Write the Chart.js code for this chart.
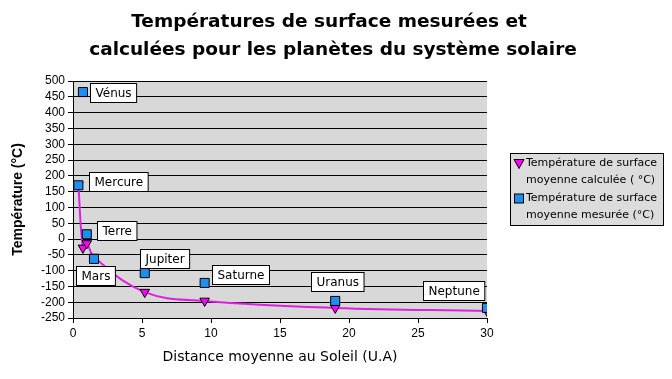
<!DOCTYPE html>
<html>
<head>
<meta charset="utf-8">
<script src="https://cdn.jsdelivr.net/npm/chart.js@4"></script>
<style>
html,body{margin:0;padding:0;background:#fff;}
#wrap{width:672px;height:379px;position:relative;}
</style>
</head>
<body>
<div id="wrap"><canvas id="c" width="672" height="379"></canvas></div>
<script>
const planets = ["Mercure","Vénus","Terre","Mars","Jupiter","Saturne","Uranus","Neptune"];
const distances = [0.39, 0.72, 1.0, 1.52, 5.2, 9.54, 19.0, 30.0];
const tempCalculee = [172, -28, -14, -57, -168, -196, -218, -228];
const tempMesuree = [170, 465, 15, -63, -108, -139, -196, -218];
const titleLines = ["Températures de surface mesurées et", "calculées pour les planètes du système solaire"];
const legendLabels = [["Température de surface","moyenne calculée ( °C)"],["Température de surface","moyenne mesurée (°C)"]];
const xTitle = "Distance moyenne au Soleil (U.A)";
const yTitle = "Température (°C)";

// label box offsets (style): center of box relative to measured point
const labelOffsets = [[40,-4],[30,0],[30,-4],[1,17],[20,-15],[36,-8],[2,-19],[-33,-17]];

const COMIC = '"Comic Sans MS","DejaVu Sans",sans-serif';

const decor = {
  id:'decor',
  beforeDraw(chart){
    const {ctx, chartArea:a} = chart;
    ctx.save();
    ctx.fillStyle = '#d8d8d8';
    ctx.fillRect(a.left, a.top, a.right-a.left, a.bottom-a.top);
    ctx.restore();
  },
  afterDraw(chart){
    const ctx = chart.ctx;
    ctx.save();
    // title
    ctx.fillStyle = '#000';
    ctx.font = 'bold 18.5px ' + COMIC;
    ctx.textAlign = 'center';
    ctx.textBaseline = 'middle';
    ctx.fillText(titleLines[0], 329, 22);
    ctx.fillText(titleLines[1], 333, 50);

    // point labels
    const meta = chart.getDatasetMeta(1);
    ctx.font = '12px ' + COMIC;
    meta.data.forEach((pt, i) => {
      const txt = planets[i];
      const w = ctx.measureText(txt).width + 10;
      const h = 19;
      const cx = pt.x + labelOffsets[i][0];
      const cy = pt.y + labelOffsets[i][1];
      const x0 = Math.round(cx - w/2) + 0.5, y0 = Math.round(cy - h/2) + 0.5;
      ctx.fillStyle = '#fff';
      ctx.fillRect(x0, y0, w, h);
      ctx.strokeStyle = '#000';
      ctx.lineWidth = 1;
      ctx.strokeRect(x0, y0, w, h);
      ctx.fillStyle = '#000';
      ctx.textAlign = 'center';
      ctx.textBaseline = 'middle';
      ctx.fillText(txt, x0 + w/2, y0 + h/2 + 1);
    });

    // legend
    const lx = 510.5, ly = 153.5, lw = 153, lh = 72;
    ctx.fillStyle = '#dcdcdc';
    ctx.fillRect(lx, ly, lw, lh);
    ctx.strokeStyle = '#000';
    ctx.lineWidth = 1;
    ctx.strokeRect(lx, ly, lw, lh);
    ctx.font = '11px ' + COMIC;
    ctx.textAlign = 'left';
    ctx.textBaseline = 'middle';
    const ds = chart.data.datasets;
    legendLabels.forEach((lines, k) => {
      const y1 = ly + 10 + k*35;
      ctx.fillStyle = '#000';
      ctx.fillText(lines[0], 526, y1);
      ctx.fillText(lines[1], 526, y1 + 17);
      ctx.fillStyle = ds[k].pointBackgroundColor;
      ctx.strokeStyle = '#000';
      if (k === 0) {
        ctx.beginPath();
        ctx.moveTo(514, y1-4); ctx.lineTo(524, y1-4); ctx.lineTo(519, y1+5); ctx.closePath();
        ctx.fill(); ctx.stroke();
      } else {
        ctx.fillRect(514.5, y1-4.5, 9, 9);
        ctx.strokeRect(514.5, y1-4.5, 9, 9);
      }
    });
    ctx.restore();
  }
};

const calcPts = distances.map((d,i)=>({x:d, y:tempCalculee[i]}));
const mesPts = distances.map((d,i)=>({x:d, y:tempMesuree[i]}));

new Chart(document.getElementById('c'), {
  type: 'scatter',
  data: {
    datasets: [
      {
        label: legendLabels[0].join(' '),
        data: calcPts,
        showLine: true,
        borderColor: '#e020e0',
        borderWidth: 2,
        tension: 0.4,
        pointStyle: 'triangle',
        rotation: 180,
        pointRadius: 5.5,
        pointBackgroundColor: '#ff00ff',
        pointBorderColor: '#000',
        pointBorderWidth: 1,
        order: 2
      },
      {
        label: legendLabels[1].join(' '),
        data: mesPts,
        showLine: false,
        pointStyle: 'rect',
        pointRadius: 6.4,
        pointBackgroundColor: '#1e8ff0',
        pointBorderColor: '#000',
        pointBorderWidth: 1,
        order: 1
      }
    ]
  },
  options: {
    responsive: false,
    animation: false,
    devicePixelRatio: 1,
    layout: { padding: { top: 81, right: 185, bottom: 9, left: 6 } },
    plugins: { legend: { display: false }, title: { display: false }, tooltip: { enabled: false } },
    scales: {
      x: {
        type: 'linear', min: 0, max: 30,
        ticks: { stepSize: 5, autoSkip: false, color: '#000', font: { family: '"Liberation Sans", Arial, sans-serif', size: 12 }, padding: 3 },
        grid: { drawOnChartArea: false, drawTicks: true, tickLength: 5, color: '#000' },
        border: { color: '#000', width: 1 },
        title: { display: true, text: xTitle, color: '#000', font: { family: COMIC, size: 14 }, padding: { top: 4, bottom: 4 } },
        afterFit(s){ s.height = 52; }
      },
      y: {
        type: 'linear', min: -250, max: 500,
        ticks: { stepSize: 50, autoSkip: false, color: '#000', font: { family: '"Liberation Sans", Arial, sans-serif', size: 12, lineHeight: 1 }, padding: 3 },
        grid: { color: '#000', lineWidth: 1, drawTicks: true, tickLength: 5, tickColor: '#000' },
        border: { color: '#000', width: 1 },
        title: { display: true, text: yTitle, color: '#000', font: { family: '"Liberation Sans", Arial, sans-serif', size: 14, weight: 'bold' }, padding: { top: 4, bottom: 4 } },
        afterFit(s){ s.width = 67; }
      }
    }
  },
  plugins: [decor]
});
</script>
</body>
</html>
